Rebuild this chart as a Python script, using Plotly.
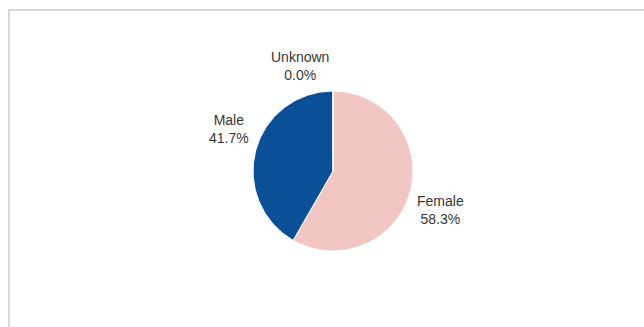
import plotly.graph_objects as go

# Gender breakdown
labels = ["Female", "Male", "Unknown"]
values = [58.3, 41.7, 0.0]
colors = ["#f2c6c2", "#0b4f97", "#9e9e9e"]

W, H = 644, 327

fig = go.Figure(
    go.Pie(
        labels=labels,
        values=values,
        sort=False,
        direction="clockwise",
        rotation=0,
        marker=dict(colors=colors, line=dict(color="white", width=1)),
        textinfo="none",
        domain=dict(x=[253 / W, 413 / W], y=[1 - 252 / H, 1 - 90 / H]),
        showlegend=False,
        hoverinfo="label+percent",
    )
)

# Slice labels placed outside the pie
total = sum(values)
label_pos = {"Female": (440, 210), "Male": (229, 129), "Unknown": (300, 66)}
for lab, val in zip(labels, values):
    px, py = label_pos[lab]
    fig.add_annotation(
        x=px / W, y=1 - py / H, xref="paper", yref="paper",
        xanchor="center", yanchor="middle",
        text=f"{lab}<br>{val / total * 100:.1f}%",
        showarrow=False, align="center",
        font=dict(family="Liberation Sans, Arial, sans-serif", size=14, color="#363636"),
    )

# Light panel frame
fig.add_shape(
    type="rect", xref="paper", yref="paper",
    x0=9 / W, x1=1.05, y0=-0.05, y1=1 - 10 / H,
    line=dict(color="#d9d9d9", width=2), fillcolor="rgba(0,0,0,0)",
)

fig.update_layout(
    width=W, height=H,
    margin=dict(l=0, r=0, t=0, b=0),
    paper_bgcolor="white", plot_bgcolor="white",
)

fig.write_html("out.html")
